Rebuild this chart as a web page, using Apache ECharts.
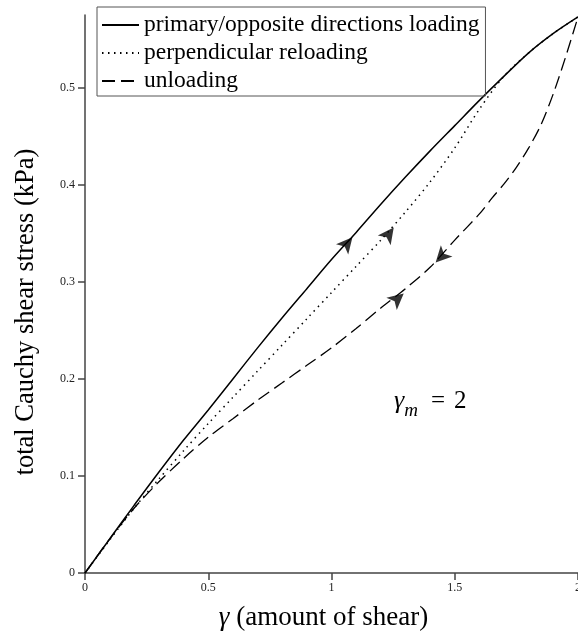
<!DOCTYPE html>
<html>
<head>
<meta charset="utf-8">
<script src="https://cdn.jsdelivr.net/npm/echarts@6/dist/echarts.min.js"></script>
<style>
html,body{margin:0;padding:0;background:#fff;}
#chart{width:578px;height:631px;}
</style>
</head>
<body>
<div id="chart"></div>
<script>
// ---- data ----
var gammaValues = [0,0.1,0.2,0.3,0.4,0.5,0.6,0.7,0.8,0.9,1.0,1.1,1.2,1.3,1.4,1.5,1.6,1.7,1.8,1.9,2.0];
var primaryStress = [0,0.035,0.070,0.104,0.137,0.168,0.200,0.232,0.263,0.293,0.323,0.351,0.380,0.408,0.435,0.461,0.487,0.512,0.536,0.556,0.573];
var perpendicularStress = [0,0.034,0.067,0.097,0.126,0.154,0.181,0.208,0.235,0.262,0.289,0.316,0.343,0.372,0.403,0.438,0.478,0.512,0.536,0.556,0.573];
var unloadingGamma = [0,0.1,0.2,0.3,0.4,0.5,0.6,0.7,0.8,0.9,1.0,1.1,1.2,1.3,1.4,1.5,1.6,1.65,1.7,1.75,1.8,1.85,1.9,1.95,2.0];
var unloadingStress = [0,0.035,0.067,0.094,0.118,0.140,0.159,0.178,0.196,0.214,0.232,0.252,0.273,0.293,0.315,0.343,0.370,0.386,0.401,0.418,0.438,0.462,0.494,0.532,0.573];
var seriesNames = ['primary/opposite directions loading','perpendicular reloading','unloading'];
var xTicks = [0,0.5,1,1.5,2];
var yTicks = [0,0.1,0.2,0.3,0.4,0.5];
// arrows: tail and tip in data coordinates
var arrowTailX = [1.065,1.235,1.445,1.27];
var arrowTailY = [0.340,0.350,0.326,0.283];
var arrowTipX  = [1.105,1.270,1.400,1.316];
var arrowTipY  = [0.352,0.362,0.314,0.293];

function pairs(xs, ys){ return xs.map(function(x,i){ return [x, ys[i]]; }); }

var serif = 'Liberation Serif';
var chart = echarts.init(document.getElementById('chart'), null, {renderer:'canvas'});

var baseOption = {
  animation:false,
  backgroundColor:'#fff',
  grid:{left:85, right:0, top:15, bottom:58, containLabel:false, outerBoundsMode:'none'},
  legend:{
    orient:'vertical', left:97, top:7,
    data:seriesNames,
    itemWidth:37, itemHeight:20, itemGap:4,
    padding:[6,6,3,4],
    borderColor:'#555', borderWidth:1,
    itemStyle:{opacity:0},
    textStyle:{fontFamily:serif, fontSize:23.5, color:'#000'},
    selectedMode:false
  },
  xAxis:{
    type:'value', min:0, max:2, interval:0.5,
    name:'{g|γ} (amount of shear)', nameLocation:'middle', nameGap:31,
    nameTextStyle:{fontFamily:serif, fontSize:27, color:'#000', padding:[0,16,0,0],
      rich:{g:{fontFamily:serif, fontStyle:'italic', fontSize:27, color:'#000'}}},
    axisLine:{lineStyle:{color:'#444', width:1.5}},
    axisTick:{show:true, inside:false, length:7, lineStyle:{color:'#444', width:1.5}, customValues:xTicks},
    axisLabel:{fontFamily:serif, fontSize:12, color:'#222', margin:9, customValues:xTicks,
      formatter:function(v){return String(v);}},
    splitLine:{show:false}
  },
  yAxis:{
    type:'value', min:0, max:0.575, interval:0.1,
    name:'total Cauchy shear stress (kPa)', nameLocation:'middle', nameGap:45, nameRotate:90,
    nameTextStyle:{fontFamily:serif, fontSize:26.5, color:'#000', padding:[0,36,0,0]},
    axisLine:{show:true, lineStyle:{color:'#444', width:1.5}},
    axisTick:{show:true, inside:false, length:7, lineStyle:{color:'#444', width:1.5}, customValues:yTicks},
    axisLabel:{fontFamily:serif, fontSize:12, color:'#222', margin:10, customValues:yTicks,
      formatter:function(v){return String(v);}},
    splitLine:{show:false}
  },
  series:[
    {name:seriesNames[0], type:'line', data:pairs(gammaValues, primaryStress), smooth:0.3,
     showSymbol:false, symbol:'none', lineStyle:{color:'#000', width:1.5, type:'solid'}, itemStyle:{color:'#000'}, z:3},
    {name:seriesNames[1], type:'line', data:pairs(gammaValues, perpendicularStress), smooth:0.3,
     showSymbol:false, symbol:'none', lineStyle:{color:'#000', width:1.5, type:[1.5,4.5]}, itemStyle:{color:'#000'}, z:2},
    {name:seriesNames[2], type:'line', data:pairs(unloadingGamma, unloadingStress), smooth:0.3,
     showSymbol:false, symbol:'none', lineStyle:{color:'#000', width:1.3, type:[13,6]}, itemStyle:{color:'#000'}, z:2}
  ],
  graphic:[{
    type:'text', left:394, top:388,
    style:{
      text:'{g|γ}{m|m}{eq|=}{two|2}',
      rich:{
        g:{fontFamily:serif, fontStyle:'italic', fontSize:26, fill:'#000', verticalAlign:'bottom'},
        m:{fontFamily:serif, fontStyle:'italic', fontSize:19, fill:'#000', verticalAlign:'bottom', padding:[0,0,-6,0]},
        eq:{fontFamily:serif, fontSize:25, fill:'#000', verticalAlign:'bottom', padding:[0,9,0,13]},
        two:{fontFamily:serif, fontSize:25, fill:'#000', verticalAlign:'bottom'}
      }
    }
  }]
};
chart.setOption(baseOption);

// arrowheads positioned at data coordinates, rotated along the local direction
var arrowData = [];
for (var i=0;i<arrowTipX.length;i++){
  var p0 = chart.convertToPixel({gridIndex:0},[arrowTailX[i],arrowTailY[i]]);
  var p1 = chart.convertToPixel({gridIndex:0},[arrowTipX[i],arrowTipY[i]]);
  var ang = Math.atan2(-(p1[1]-p0[1]), p1[0]-p0[0])*180/Math.PI;
  arrowData.push({value:[(arrowTailX[i]+arrowTipX[i])/2,(arrowTailY[i]+arrowTipY[i])/2], symbolRotate:ang-90});
}
chart.setOption({series:[{},{},{},{
  name:'arrows', type:'scatter', data:arrowData, symbol:'arrow', symbolSize:[12,16],
  itemStyle:{color:'#000'}, z:5, silent:true
}]});
</script>
</body>
</html>
